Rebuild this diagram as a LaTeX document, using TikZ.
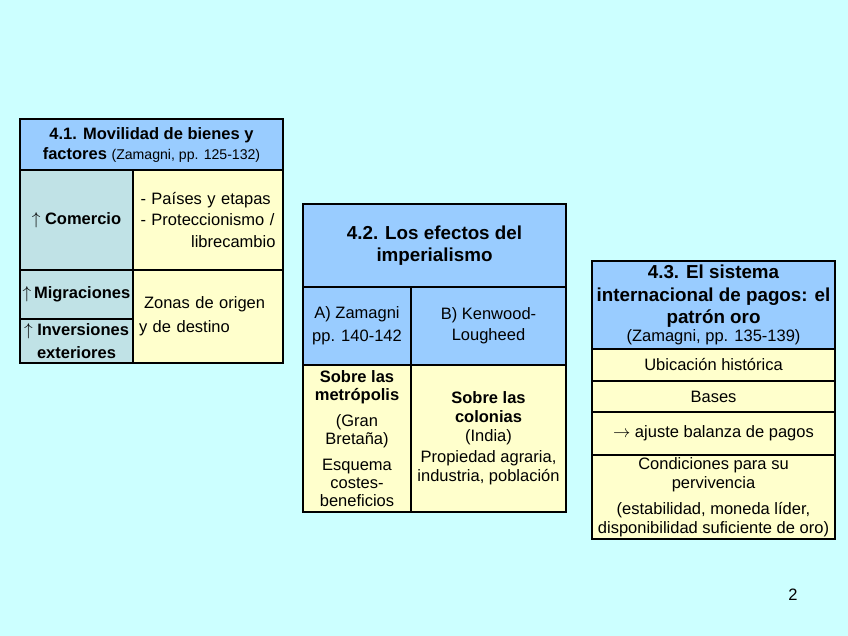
\documentclass[tikz,border=0pt]{standalone}
\usepackage{fontspec}
\setmainfont{Liberation Sans}
\usetikzlibrary{positioning}
\definecolor{bgcyan}{RGB}{204,255,255}
\definecolor{headblue}{RGB}{153,204,255}
\definecolor{cellyellow}{RGB}{255,255,204}
\definecolor{cellteal}{RGB}{192,226,230}
\newcommand{\tabbody}{\fontsize{16.5}{19}\selectfont}
\newcommand{\tabhead}{\fontsize{18.8}{22.5}\selectfont\bfseries}
\newcommand{\tabsmall}{\fontsize{14.1}{17}\selectfont}
\tikzset{
  cell/.style={draw, line width=1.3pt, anchor=north west, inner sep=0pt, outer sep=0pt, align=center, font=\tabbody}, % every table cell
  head/.style={cell, fill=headblue}, % blue title cells
  body/.style={cell, fill=cellyellow}, % yellow content cells
  side/.style={cell, fill=cellteal, font=\tabbody\bfseries}, % teal row labels
  frame/.style={draw, line width=2.5pt}, % outer border of each table
}

\begin{document}
\begin{tikzpicture}[x=1pt, y=-1pt]
      \useasboundingbox (0,0) rectangle (848,636);
      \fill[bgcyan] (0,0) rectangle (848,636);

      % 4.1
      \node[head, minimum width=263, minimum height=51, font=\fontsize{16.5}{20}\selectfont\bfseries] (h41) at (20,119)
        {4.1. Movilidad de bienes y\\ factores {\mdseries\tabsmall (Zamagni, pp. 125-132)}};
      \node[side, minimum width=113, minimum height=100] (com) at (h41.south west) {$\uparrow$ Comercio};
      \node[body, minimum width=150, minimum height=100, text width=135, align=left,
            font=\fontsize{16.5}{21.5}\selectfont] (lst) at (com.north east)
        {- Países y etapas\\ - Proteccionismo /\\ \hspace*{0pt plus 1filll}librecambio};
      \node[side, minimum width=113, minimum height=49] (mig) at (com.south west) {$\uparrow$\,Migraciones};
      \node[side, minimum width=113, minimum height=44, font=\fontsize{16.5}{23}\selectfont\bfseries] (inv) at (mig.south west)
        {$\uparrow$ Inversiones\\ exteriores};
      \node[body, minimum width=150, minimum height=93, text width=138, align=left,
            font=\fontsize{16.5}{24}\selectfont] (zon) at (lst.south west)
        {\hspace{5pt}Zonas de origen\\ y de destino};
      \draw[frame] (h41.north west) rectangle (zon.south east);

      % 4.2
      \node[head, minimum width=263, minimum height=83, font=\tabhead] (h42) at (303,204)
        {4.2. Los efectos del\\ imperialismo};
      \node[head, minimum width=108, minimum height=78] (zam) at (h42.south west)
        {A) Zamagni\\[4pt] pp. 140-142};
      \node[head, minimum width=155, minimum height=78] (ken) at (zam.north east)
        {B) Kenwood-\\[2pt] Lougheed};
      \node[body, minimum width=108, minimum height=147, font=\fontsize{16.5}{18}\selectfont] (met) at (zam.south west)
        {\textbf{Sobre las}\\ \textbf{metrópolis}\\[8pt] (Gran\\ Bretaña)\\[8pt] Esquema\\ costes-\\ beneficios};
      \node[body, minimum width=155, minimum height=147] (col) at (ken.south west)
        {\textbf{Sobre las}\\ \textbf{colonias}\\ (India)\\[2pt] Propiedad agraria,\\ industria, población};
      \draw[frame] (h42.north west) rectangle (col.south east);

      % 4.3
      \node[head, minimum width=243, minimum height=88, font=\tabhead] (h43) at (592,261)
        {4.3. El sistema\\ internacional de pagos: el\\ patrón oro\\[-5pt] {\mdseries\tabbody (Zamagni, pp. 135-139)}};
      \node[body, minimum width=243, minimum height=32] (ubi) at (h43.south west) {Ubicación histórica};
      \node[body, minimum width=243, minimum height=31] (bas) at (ubi.south west) {Bases};
      \node[body, minimum width=243, minimum height=43] (aju) at (bas.south west) {$\rightarrow$ ajuste balanza de pagos};
      \node[body, minimum width=243, minimum height=84] (cnd) at (aju.south west)
        {Condiciones para su\\ pervivencia\\[7pt] (estabilidad, moneda líder,\\ disponibilidad suficiente de oro)};
      \draw[frame] (h43.north west) rectangle (cnd.south east);

      \node[font=\tabbody] (pnum) at (793,595) {2};
\end{tikzpicture}
\end{document}
